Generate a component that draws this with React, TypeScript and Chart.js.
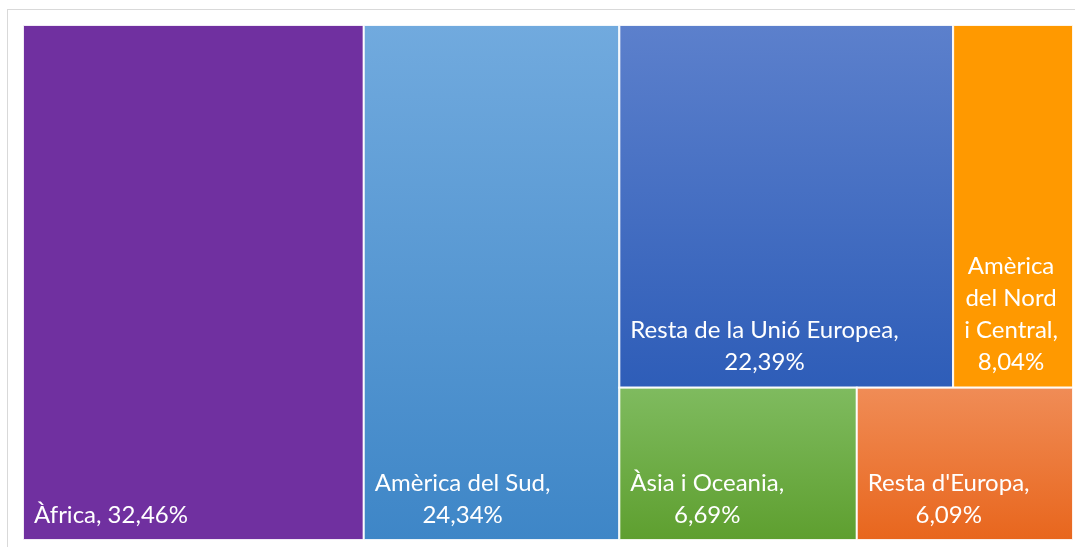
import React, { useEffect, useRef } from "react";
import { Chart, registerables } from "chart.js";

Chart.register(...registerables);

const categories = [
  "Àfrica",
  "Amèrica del Sud",
  "Resta de la Unió Europea",
  "Amèrica del Nord i Central",
  "Àsia i Oceania",
  "Resta d'Europa",
];
const values = [32.46, 24.34, 22.39, 8.04, 6.69, 6.09];
const topColors = ["#7030A0", "#71AADE", "#5C80CC", "#FF9900", "#7FBB5F", "#F08C56"];
const bottomColors = ["#7030A0", "#3E86C7", "#2E5DB8", "#FF9900", "#5E9F2F", "#E8661D"];
// structure: columns; a column may hold rows, each row holds items side by side
const layoutGroups: any[] = [[0], [1], [[2, 3], [4, 5]]];

const fmt = (v: number) => v.toFixed(2).replace(".", ",") + "%";

type Rect = { i: number; x0: number; x1: number; y0: number; y1: number };

function computeRects(): Rect[] {
  const rects: Rect[] = [];
  let x = 0;
  for (const col of layoutGroups) {
    const isRows = Array.isArray(col[0]);
    const idx: number[] = isRows ? (col as number[][]).flat() : (col as number[]);
    const colSum = idx.reduce((a, i) => a + values[i], 0);
    const colW = colSum;
    if (!isRows) {
      let y = 0;
      for (const i of idx) {
        const h = values[i] / colSum;
        rects.push({ i, x0: x, x1: x + colW, y0: y, y1: y + h });
        y += h;
      }
    } else {
      let y = 0;
      for (const row of col as number[][]) {
        const rowSum = row.reduce((a, i) => a + values[i], 0);
        const h = rowSum / colSum;
        let xx = x;
        for (const i of row) {
          const w = (values[i] / rowSum) * colW;
          rects.push({ i, x0: xx, x1: xx + w, y0: y, y1: y + h });
          xx += w;
        }
        y += h;
      }
    }
    x += colW;
  }
  return rects;
}

function wrap(ctx: CanvasRenderingContext2D, text: string, maxW: number): string[] {
  const words = text.split(" ");
  const lines: string[] = [];
  let cur = "";
  for (const w of words) {
    const t = cur ? cur + " " + w : w;
    if (ctx.measureText(t).width <= maxW || !cur) cur = t;
    else {
      lines.push(cur);
      cur = w;
    }
  }
  if (cur) lines.push(cur);
  return lines;
}

export default function App() {
  const ref = useRef<HTMLCanvasElement | null>(null);
  useEffect(() => {
    const canvas = ref.current!;
    const total = values.reduce((a, b) => a + b, 0);
    const rects = computeRects();
    const treemapPlugin = {
      id: "treemapCells",
      beforeDraw(chart: any) {
        const ctx = chart.ctx;
        ctx.save();
        ctx.fillStyle = "#ffffff";
        ctx.fillRect(0, 0, chart.width, chart.height);
        ctx.strokeStyle = "#d9d9d9";
        ctx.lineWidth = 1;
        ctx.beginPath();
        ctx.moveTo(7.5, 9);
        ctx.lineTo(7.5, chart.height);
        ctx.moveTo(7, 9.5);
        ctx.lineTo(chart.width, 9.5);
        ctx.stroke();
        ctx.restore();
      },
      afterDatasetsDraw(chart: any) {
        const ctx = chart.ctx;
        const xs = chart.scales.x;
        const ys = chart.scales.y;
        ctx.save();
        for (const r of rects) {
          const px0 = xs.getPixelForValue(r.x0);
          const px1 = xs.getPixelForValue(r.x1);
          const py0 = ys.getPixelForValue(r.y0);
          const py1 = ys.getPixelForValue(r.y1);
          const g = ctx.createLinearGradient(0, py0, 0, py1);
          g.addColorStop(0, topColors[r.i]);
          g.addColorStop(1, bottomColors[r.i]);
          ctx.fillStyle = g;
          ctx.fillRect(px0, py0, px1 - px0, py1 - py0);
          ctx.strokeStyle = "rgba(255,255,255,0.9)";
          ctx.lineWidth = 2;
          ctx.strokeRect(px0, py0, px1 - px0, py1 - py0);
        }
        ctx.font = "24px Lato";
        ctx.fillStyle = "#ffffff";
        ctx.textBaseline = "alphabetic";
        ctx.textAlign = "center";
        const pad = 11;
        const lh = 32;
        for (const r of rects) {
          const px0 = xs.getPixelForValue(r.x0);
          const px1 = xs.getPixelForValue(r.x1);
          const py1 = ys.getPixelForValue(r.y1);
          const text = categories[r.i] + ", " + fmt(values[r.i]);
          const lines = wrap(ctx, text, px1 - px0 - 2 * pad);
          const blockW = Math.max(...lines.map((l) => ctx.measureText(l).width));
          const cx = px0 + pad + blockW / 2;
          const lastBase = py1 - 17.5;
          lines.forEach((l, k) => {
            ctx.fillText(l, cx, lastBase - (lines.length - 1 - k) * lh);
          });
        }
        ctx.restore();
      },
    };
    const chart = new Chart(canvas, {
      type: "scatter",
      data: {
        datasets: [
          {
            label: "cells",
            data: rects.map((r) => ({ x: (r.x0 + r.x1) / 2, y: (r.y0 + r.y1) / 2 })),
            pointRadius: 0,
            pointHoverRadius: 0,
          },
        ],
      },
      options: {
        animation: false,
        responsive: false,
        devicePixelRatio: 1,
        layout: { padding: { left: 23, top: 25, right: 2, bottom: 7 } },
        scales: {
          x: { type: "linear", display: false, min: 0, max: total },
          y: { type: "linear", display: false, min: 0, max: 1, reverse: true },
        },
        plugins: { legend: { display: false }, tooltip: { enabled: false } },
      },
      plugins: [treemapPlugin],
    } as any);
    return () => chart.destroy();
  }, []);
  return (
    <div style={{ position: "fixed", left: 0, top: 0, width: 1075, height: 547 }}>
      <canvas ref={ref} width={1075} height={547} style={{ display: "block", width: 1075, height: 547 }} />
    </div>
  );
}
